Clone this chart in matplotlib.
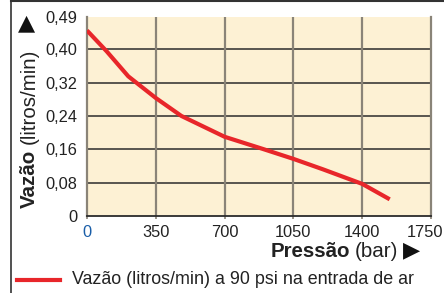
import matplotlib
matplotlib.use('Agg')
import matplotlib.pyplot as plt
from matplotlib.lines import Line2D
from matplotlib.transforms import ScaledTranslation

plt.rcParams['font.family'] = ['Liberation Sans', 'DejaVu Sans']

# data
pressao = [0, 100, 210, 350, 480, 700, 900, 1050, 1200, 1400, 1540]
vazao = [0.445, 0.395, 0.335, 0.283, 0.24, 0.19, 0.16, 0.137, 0.112, 0.077, 0.04]
xticks = [0, 350, 700, 1050, 1400, 1750]
yticks = [0, 0.08, 0.16, 0.24, 0.32, 0.40, 0.478]
ylabels = ['0', '0,08', '0,16', '0,24', '0,32', '0,40', '0,49']

W, H = 444, 293
fig = plt.figure(figsize=(4.44, 2.93), dpi=100)
ax = fig.add_axes([87/W, 1-216/H, 344/W, (216-16.7)/H])
ax.set_facecolor('#fdf1d4')

ax.plot(pressao, vazao, color='#e8262a', lw=3, solid_capstyle='butt', zorder=3)

ax.set_xlim(0, 1750)
ax.set_ylim(0, 0.478)
ax.set_xticks(xticks)
ax.set_yticks(yticks)
ax.set_yticklabels(ylabels)
ax.tick_params(axis='y', length=0, labelsize=11.8, pad=7.2, colors='#222222')
ax.tick_params(axis='x', length=2.5, width=1.2, color='#8a8478', labelsize=11.8,
               pad=4, labelcolor='#222222')
xl = ax.get_xticklabels()
xl[0].set_color('#1a5ea8')
xl[-1].set_transform(xl[-1].get_transform() + ScaledTranslation(-4/72, 0, fig.dpi_scale_trans))

for v in yticks[1:-1]:
    ax.axhline(v, color='#2b2b2b', lw=1.1, zorder=1)
for v in xticks[1:-1]:
    ax.axvline(v, color='#8a8478', lw=1.6, zorder=1)

ax.spines['top'].set_visible(False)
ax.spines['left'].set_color('#8a8478')
ax.spines['left'].set_linewidth(1.6)
ax.spines['right'].set_color('#8a8478')
ax.spines['right'].set_linewidth(1.6)
ax.spines['bottom'].set_color('#2b2b2b')
ax.spines['bottom'].set_linewidth(1.3)

# y label: bold + normal + arrow, all on one baseline
fig.text(35/W, 1-208/H, 'Vazão', rotation=90, rotation_mode='anchor',
         fontsize=14.8, fontweight='bold', ha='left', va='baseline', color='#222222')
fig.text(35/W, 1-144/H, '(litros/min)', rotation=90, rotation_mode='anchor',
         fontsize=14.8, ha='left', va='baseline', color='#222222')
fig.text(26/W, 1-23/H, '▲', fontsize=16, ha='center', va='center',
         family='DejaVu Sans', color='#111111')

# x label
fig.text(350/W, 1-257/H, 'Pressão', fontsize=14.8, fontweight='bold',
         ha='right', va='baseline', color='#222222')
fig.text(355/W, 1-257/H, '(bar)', fontsize=14.8, ha='left', va='baseline',
         color='#222222')
fig.text(411/W, 1-250/H, '▶', fontsize=16, ha='center', va='center',
         family='DejaVu Sans', color='#111111')

# legend
fig.add_artist(Line2D([17/W, 60/W], [1-280/H, 1-280/H], color='#e8262a', lw=3))
fig.text(72/W, 1-279/H, 'Vazão (litros/min) a 90 psi na entrada de ar',
         fontsize=12.9, ha='left', va='center', color='#222222')

# outer frame (left and top)
fig.add_artist(Line2D([10.5/W, 10.5/W], [0, 1], color='#333333', lw=1.2))
fig.add_artist(Line2D([10.5/W, 1], [1-1.2/H, 1-1.2/H], color='#333333', lw=1.5))

fig.savefig('out.png', dpi=100)
